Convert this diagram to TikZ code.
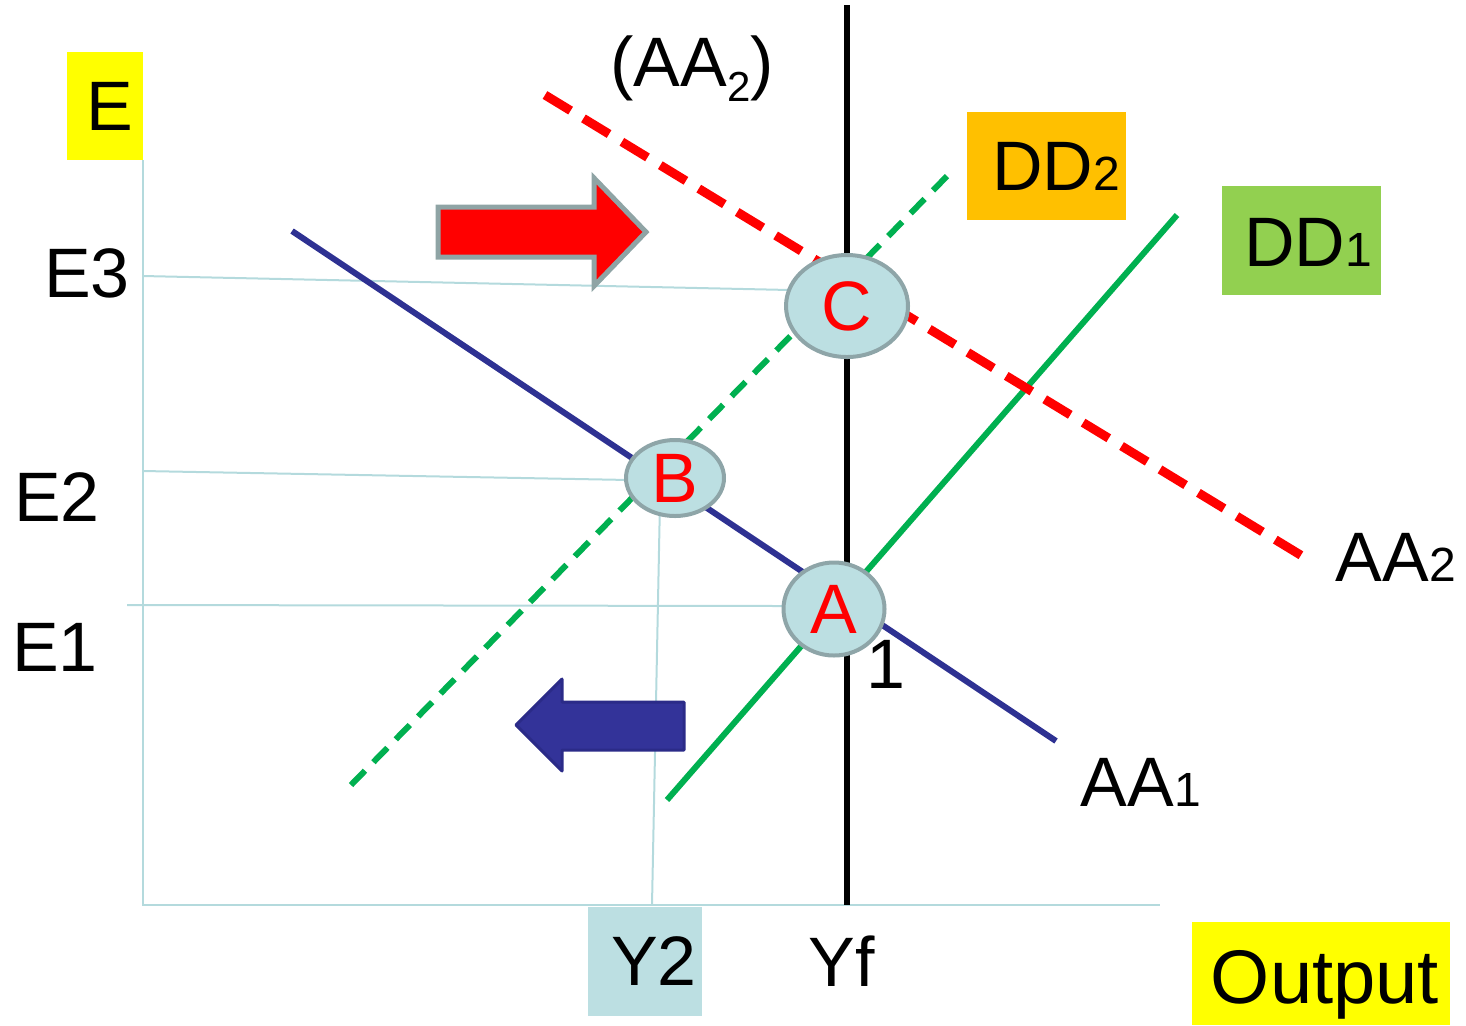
\documentclass[tikz,border=0pt]{standalone}
\usepackage{fontspec}
\setmainfont{Liberation Sans}
\usetikzlibrary{shapes.geometric}
\definecolor{axisblue}{HTML}{B4DADD}
\definecolor{circfill}{HTML}{BCDFE2}
\definecolor{circedge}{HTML}{8EA5A8}
\definecolor{navyline}{HTML}{2E3192}
\definecolor{arrowblue}{HTML}{333399}
\definecolor{arrowblueedge}{HTML}{2B2B88}
\definecolor{ddgreen}{HTML}{00B050}
\definecolor{boxgreen}{HTML}{92D050}
\definecolor{boxorange}{HTML}{FFC000}
\definecolor{boxyellow}{HTML}{FFFF00}
\definecolor{arrowgray}{HTML}{8FA4A5}
\newcommand{\bigf}{\fontsize{35}{40}\selectfont}
\newcommand{\smallf}{\fontsize{24}{28}\selectfont}
\tikzset{
  guide/.style={draw=axisblue, line width=1pt},
  lbl/.style={inner sep=0pt, font=\bigf, text=black},
  pointmark/.style={ellipse, fill=circfill, draw=circedge, line width=2pt,
     inner sep=0pt, font=\bigf, text=red},
  aaone/.style={draw=navyline, line width=3pt},
  ddone/.style={draw=ddgreen, line width=3pt},
  ddtwo/.style={draw=ddgreen, line width=3pt, dash pattern=on 10pt off 6pt},
  aatwo/.style={draw=red, line width=4.5pt, dash pattern=on 15pt off 7.5pt},
}
\begin{document}
\begin{tikzpicture}[x=0.5pt, y=-0.5pt]
\useasboundingbox (0,0) rectangle (1466,1025);
\clip (0,0) rectangle (1466,1025);
% label boxes
\fill[boxyellow] (67,52) rectangle (143,160);
\fill[boxorange] (967,112) rectangle (1126,220);
\fill[boxgreen] (1222,186) rectangle (1381,295);
\fill[circfill] (588,907) rectangle (702,1016);
\fill[boxyellow] (1192,922) rectangle (1450,1025);
% coordinates
\coordinate (origin) at (143,905);
\coordinate (ytop) at (143,160);
\coordinate (xend) at (1160,905);
\coordinate (e3a) at (143,276);  \coordinate (e3b) at (790,290);
\coordinate (e2a) at (143,471);  \coordinate (e2b) at (630,480);
\coordinate (e1a) at (127,605);  \coordinate (e1b) at (785,606);
\coordinate (y2a) at (660,500);  \coordinate (y2b) at (652,905);
\coordinate (yftop) at (847,5);  \coordinate (yfbot) at (847,905);
\coordinate (aa1s) at (292,231); \coordinate (aa1e) at (1056,741);
\coordinate (dd1s) at (667,800); \coordinate (dd1e) at (1177,215);
\coordinate (dd2s) at (351,785); \coordinate (dd2e) at (951,172);
\coordinate (aa2s) at (545,95);  \coordinate (aa2e) at (1312,562);
% axes and guides
\draw[guide] (ytop) -- (origin) -- (xend);
\draw[guide] (e3a) -- (e3b);
\draw[guide] (e2a) -- (e2b);
\draw[guide] (e1a) -- (e1b);
\draw[guide] (y2a) -- (y2b);
% curves
\draw[aaone] (aa1s) -- (aa1e);
\draw[ddone] (dd1s) -- (dd1e);
\draw[ddtwo] (dd2s) -- (dd2e);
\draw[aatwo] (aa2s) -- (aa2e);
\draw[black, line width=3pt] (yftop) -- (yfbot);
% shift arrows
\draw[fill=red, draw=arrowgray, line width=2.5pt, line join=miter]
  (438,207) -- (594,207) -- (594,178) -- (646,232) -- (594,286) -- (594,257) -- (438,257) -- cycle;
\draw[fill=arrowblue, draw=arrowblueedge, line width=1.5pt, line join=round]
  (516,725) -- (562,679) -- (562,702) -- (684,702) -- (684,750) -- (562,750) -- (562,771) -- cycle;
% equilibrium points
\node[pointmark, minimum width=61pt, minimum height=51pt] (C) at (847,306) {C};
\node[pointmark, minimum width=49pt, minimum height=38pt] (B) at (675,478) {B};
\node[pointmark, minimum width=50.5pt, minimum height=46.5pt] (A) at (834,609) {A};
% labels
\node[lbl] (E) at (110,106) {E};
\node[lbl] (E3) at (87,273) {E3};
\node[lbl] (E2) at (57,497) {E2};
\node[lbl] (E1) at (55,647) {E1};
\node[lbl] (one) at (886,664) {1};
\node[lbl, anchor=base west] (AA2p) at (610,86) {(AA\raisebox{-7.5pt}{\fontsize{21}{24}\selectfont 2})};
\node[lbl] (DD2) at (1056,166) {DD{\smallf 2}};
\node[lbl] (DD1) at (1308,242) {DD{\smallf 1}};
\node[lbl] (AA2) at (1396,557) {AA{\smallf 2}};
\node[lbl] (AA1) at (1141,782) {AA{\smallf 1}};
\node[lbl] (Y2) at (654,961) {Y2};
\node[lbl] (Yf) at (842,961) {Yf};
\node[lbl, anchor=base, font=\fontsize{38}{42}\selectfont] (Out) at (1325,1003) {Output};
\end{tikzpicture}
\end{document}
